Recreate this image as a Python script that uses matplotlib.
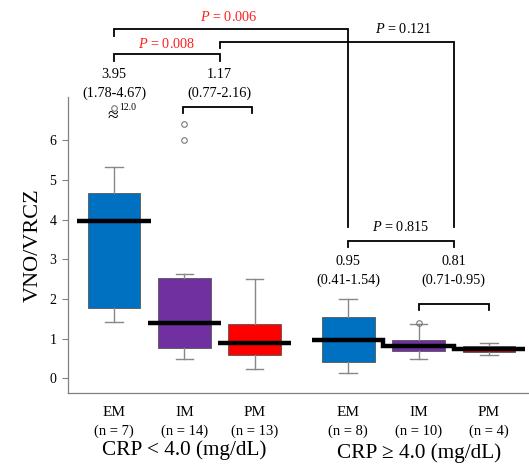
import matplotlib
matplotlib.use("Agg")
import matplotlib.pyplot as plt

plt.rcParams['font.family'] = ['Liberation Serif', 'DejaVu Serif']
plt.rcParams['mathtext.fontset'] = 'custom'
plt.rcParams['mathtext.it'] = 'Liberation Serif:italic'
plt.rcParams['mathtext.rm'] = 'Liberation Serif'

# ---- data ----
groups = ["EM", "IM", "PM", "EM", "IM", "PM"]
n_labels = ["(n = 7)", "(n = 14)", "(n = 13)", "(n = 8)", "(n = 10)", "(n = 4)"]
positions = [1.0, 2.0, 3.0, 4.33, 5.33, 6.33]
medians = [3.95, 1.39, 0.90, 0.96, 0.82, 0.74]
q1 = [1.78, 0.77, 0.59, 0.40, 0.70, 0.65]
q3 = [4.66, 2.53, 1.36, 1.54, 0.97, 0.81]
whis_lo = [1.42, 0.48, 0.23, 0.14, 0.49, 0.58]
whis_hi = [5.32, 2.63, 2.49, 1.99, 1.36, 0.90]
fliers = [[], [6.0, 6.4], [], [], [1.39], []]
colors = ["#0070C0", "#7030A0", "#FF0000", "#0070C0", "#7030A0", "#D01010"]
crp_labels = ["CRP < 4.0 (mg/dL)", "CRP \u2265 4.0 (mg/dL)"]
summary_text = ["3.95\n(1.78-4.67)", "1.17\n(0.77-2.16)",
                "0.95\n(0.41-1.54)", "0.81\n(0.71-0.95)"]
p_values = ["0.008", "0.006", "0.121", "0.815"]
outlier_value = "12.0"

W, H = 529, 466
fig = plt.figure(figsize=(W / 100, H / 100), dpi=100)
ax = fig.add_axes([67.5 / W, 1 - 393.3 / H, (529 - 67.5) / W, (393.3 - 97) / H])
ax.set_xlim(0.339, 6.90)
ax.set_ylim(-0.378, 7.086)

stats = []
for i in range(len(positions)):
    stats.append(dict(med=medians[i], q1=q1[i], q3=q3[i], whislo=whis_lo[i],
                      whishi=whis_hi[i], fliers=fliers[i]))
bp = ax.bxp(stats, positions=positions, widths=0.75, patch_artist=True,
            showfliers=True,
            boxprops=dict(edgecolor="#555555", linewidth=0.6),
            whiskerprops=dict(color="#888888", linewidth=1.0),
            capprops=dict(color="#888888", linewidth=1.0),
            medianprops=dict(visible=False),
            flierprops=dict(marker="o", markersize=4, markerfacecolor="none",
                            markeredgecolor="#777777", markeredgewidth=0.8))
for patch, c in zip(bp["boxes"], colors):
    patch.set_facecolor(c)
for cap in bp["caps"]:
    xd = cap.get_xdata()
    m = (xd[0] + xd[1]) / 2
    cap.set_xdata([m - 0.125, m + 0.125])

# median lines: group 1 separate, group 2 as a step line
hw = 0.52
for i in range(3):
    ax.plot([positions[i] - hw, positions[i] + hw], [medians[i], medians[i]],
            color="black", lw=3.2, solid_capstyle="butt", zorder=5)
p4, p5, p6 = positions[3:]
m4, m5, m6 = medians[3:]
b45 = (p4 + p5) / 2
b56 = (p5 + p6) / 2
ax.plot([p4 - hw, b45, b45, b56, b56, p6 + hw], [m4, m4, m5, m5, m6, m6],
        color="black", lw=3.2, solid_capstyle="butt", solid_joinstyle="miter",
        zorder=5)

# axes styling
for s in ["top", "right"]:
    ax.spines[s].set_visible(False)
for s in ["left", "bottom"]:
    ax.spines[s].set_color("#808080")
    ax.spines[s].set_linewidth(0.9)
ax.set_yticks(range(0, 7))
ax.tick_params(axis="y", direction="out", length=4, color="#808080",
               labelsize=10, pad=4)
ax.set_xticks([])
ax.set_ylabel("VNO/VRCZ", fontsize=16, labelpad=5)

# category labels under axis
for i, p in enumerate(positions):
    ax.text(p, -0.86, groups[i], ha="center", va="center", fontsize=11,
            clip_on=False)
    ax.text(p, -1.34, n_labels[i], ha="center", va="center", fontsize=10.5,
            clip_on=False)
ax.text(2.0, -1.80, crp_labels[0], ha="center", va="center", fontsize=15.3,
        clip_on=False)
ax.text(5.33, -1.88, crp_labels[1], ha="center", va="center", fontsize=15.3,
        clip_on=False)

lw_b = 1.3
def bracket(x1, x2, y, drop):
    ax.plot([x1, x1, x2, x2], [y - drop, y, y, y - drop], color="black",
            lw=lw_b, clip_on=False, solid_joinstyle="miter")

mid23 = (positions[1] + positions[2]) / 2
mid56 = (positions[4] + positions[5]) / 2
fs = 10.3

# summary texts
ax.text(positions[0], 7.42, summary_text[0], ha="center", va="center",
        fontsize=fs, linespacing=1.5, clip_on=False)
ax.text(mid23, 7.42, summary_text[1], ha="center", va="center",
        fontsize=fs, linespacing=1.5, clip_on=False)
ax.text(positions[3], 2.70, summary_text[2], ha="center", va="center",
        fontsize=fs, linespacing=1.5, clip_on=False)
ax.text(mid56, 2.70, summary_text[3], ha="center", va="center",
        fontsize=fs, linespacing=1.5, clip_on=False)

# small brackets joining IM and PM
bracket(positions[1] - 0.02, positions[2] - 0.04, 6.84, 0.15)
bracket(positions[4], positions[5], 1.86, 0.15)

# P = 0.008
bracket(positions[0], mid23, 8.16, 0.17)
ax.text((positions[0] + mid23) / 2, 8.41, r"$P$ = " + p_values[0],
        color="#FF1E1E", ha="center", va="center", fontsize=fs, clip_on=False)

# P = 0.006 (EM1 to EM2)
ax.plot([positions[0], positions[0], positions[3], positions[3]],
        [8.62, 8.79, 8.79, 3.82], color="black", lw=lw_b,
        clip_on=False, solid_joinstyle="miter")
ax.text(2.63, 9.11, r"$P$ = " + p_values[1], color="#FF1E1E",
        ha="center", va="center", fontsize=fs, clip_on=False)

# P = 0.121 (IM/PM1 to IM/PM2)
ax.plot([mid23, mid23, mid56, mid56], [8.31, 8.46, 8.46, 3.82],
        color="black", lw=lw_b, clip_on=False, solid_joinstyle="miter")
ax.text(5.12, 8.79, r"$P$ = " + p_values[2], color="black",
        ha="center", va="center", fontsize=fs, clip_on=False)

# P = 0.815
bracket(positions[3], mid56, 3.47, 0.16)
ax.text((positions[3] + mid56) / 2, 3.80, r"$P$ = " + p_values[3],
        color="black", ha="center", va="center", fontsize=fs, clip_on=False)

# broken-axis outlier marker
ax.plot([positions[0]], [6.82], marker="o", markersize=4, markerfacecolor="none",
        markeredgecolor="#777777", markeredgewidth=0.8, clip_on=False)
ax.text(positions[0] + 0.08, 6.82, outlier_value, fontsize=7, ha="left",
        va="center", clip_on=False)
ax.text(positions[0] - 0.02, 6.60, "\u2248", fontsize=14, ha="center",
        va="center", clip_on=False)

fig.savefig("out.png", dpi=100)
